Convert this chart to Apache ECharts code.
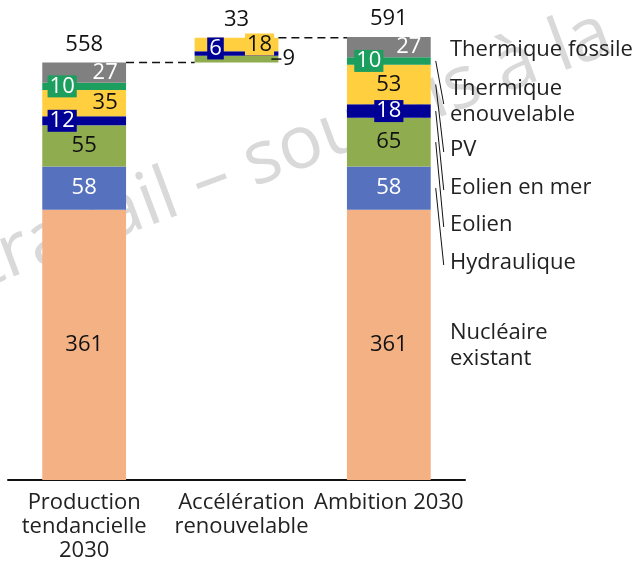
<!DOCTYPE html>
<html>
<head>
<meta charset="utf-8">
<script src="https://cdn.jsdelivr.net/npm/echarts@6/dist/echarts.min.js"></script>
<style>
  html, body { margin: 0; padding: 0; background: #fff; }
  #main { width: 638px; height: 563px; }
</style>
</head>
<body>
<div id="main"></div>
<script>
// categories
var categories = ['Production\ntendancielle\n2030', 'Accélération\nrenouvelable', 'Ambition 2030'];

// stack values (bottom -> top)
var base        = [0, 558, 0];
var nucleaire   = [361, 0, 361];
var hydraulique = [58, 0, 58];
var eolien      = [55, 9, 65];
var eolienMer   = [12, 6, 18];
var pv          = [35, 18, 53];
var thermRenouv = [10, 0, 10];
var thermFossile = [27, 0, 27];
var totals      = [558, 33, 591];

// legend texts on the right, top -> bottom
var legendNames = ['Thermique fossile', 'Thermique\nenouvelable', 'PV', 'Eolien en mer', 'Eolien', 'Hydraulique', 'Nucléaire\nexistant'];

var FONT = 'Open Sans';
var FS = 22;
var chart = echarts.init(document.getElementById('main'));

// per-bar label tweaks, kept apart from the values
function items(vals, opts) {
  return vals.map(function (v, i) {
    var o = opts && opts[i];
    var it = { value: v };
    if (v === 0) {
      it.label = { show: false };
    } else if (o) {
      it.label = o;
    }
    return it;
  });
}

var boxNavy = { backgroundColor: '#000096', color: '#fff', padding: [0, 2] };
var boxTeal = { backgroundColor: '#1b9e5e', color: '#fff', padding: [0, 2] };

function serie(name, color, data, labelColor) {
  return {
    name: name,
    type: 'bar',
    stack: 'a',
    barWidth: '55%',
    itemStyle: { color: color },
    label: {
      show: true, position: 'inside', color: labelColor,
      fontFamily: FONT, fontSize: FS
    },
    data: data,
    animation: false
  };
}

var series = [
  {
    name: 'base', type: 'bar', stack: 'a', barWidth: '55%',
    itemStyle: { color: 'rgba(0,0,0,0)' }, data: base, silent: true, animation: false
  },
  serie('Nucléaire existant', '#f4b183', items(nucleaire), '#111'),
  serie('Hydraulique', '#5672be', items(hydraulique), '#fff'),
  serie('Eolien', '#8fad4f', items(eolien, [null, {
    position: ['100%', '50%'], align: 'left', verticalAlign: 'middle', offset: [-7, 0],
    formatter: '{d|}{v|{c}}',
    rich: {
      d: { width: 10, height: 1.5, backgroundColor: '#111' },
      v: { fontFamily: FONT, fontSize: FS, color: '#111', padding: [0, 0, 0, 1] }
    }
  }, null]), '#111'),
  serie('Eolien en mer', '#000096', items(eolienMer, [
    Object.assign({ offset: [-22, 0] }, boxNavy),
    Object.assign({ offset: [-21, -5] }, boxNavy),
    Object.assign({ offset: [0, 0] }, boxNavy)
  ]), '#fff'),
  serie('PV', '#ffcf3f', items(pv, [
    { offset: [21, 0] },
    { offset: [23, 0], backgroundColor: '#ffcf3f', padding: [0, 2] },
    null
  ]), '#111'),
  serie('Thermique renouvelable', '#1b9e5e', items(thermRenouv, [
    Object.assign({ offset: [-22, 0] }, boxTeal), null,
    Object.assign({ offset: [-20, 0] }, boxTeal)
  ]), '#fff'),
  serie('Thermique fossile', '#808080', items(thermFossile, [
    { offset: [21, 0] }, null, { offset: [20, 0] }
  ]), '#fff'),
  {
    name: 'total', type: 'bar', stack: 'a', barWidth: '55%',
    data: [0, 0, 0], itemStyle: { color: 'rgba(0,0,0,0)' },
    label: {
      show: true, position: 'top', distance: 7, color: '#111',
      fontFamily: FONT, fontSize: FS,
      formatter: function (p) { return totals[p.dataIndex]; }
    },
    animation: false
  }
];

chart.setOption({
  backgroundColor: '#fff',
  animation: false,
  grid: { left: 8, right: 173, top: 31, bottom: 80 },
  xAxis: {
    type: 'category',
    data: categories,
    axisLine: { lineStyle: { color: '#111', width: 2 } },
    axisTick: { show: false },
    axisLabel: {
      interval: 0, margin: 11, color: '#222',
      fontFamily: FONT, fontSize: FS, lineHeight: 24,
      formatter: function (v, i) { return i === 1 ? '{r|' + v.split('\n').join('}\n{r|') + '}' : v; },
      rich: { r: { fontFamily: FONT, fontSize: FS, lineHeight: 24, color: '#222', padding: [0, 0, 0, 10] } }
    }
  },
  yAxis: { type: 'value', min: 0, max: 600, show: false, splitLine: { show: false } },
  series: series
});

// overlay: watermark, connectors, legend texts and leader lines
function px(i, v) { return chart.convertToPixel({ gridIndex: 0 }, [i, v]); }
var band = px(1, 0)[0] - px(0, 0)[0];
var half = band * 0.55 / 2;
var g = [];

g.push({
  type: 'text', x: -24, y: 268, rotation: 20.5 * Math.PI / 180, z: -10, silent: true,
  style: {
    text: 'travail – soumis à la', fill: '#d9d9d9',
    font: '74px "' + FONT + '"', textAlign: 'left', textVerticalAlign: 'middle'
  }
});

// dashed connectors
var y0 = px(0, totals[0])[1];
var y1 = px(1, totals[0] + totals[1])[1];
g.push({
  type: 'line', z: 50, silent: true,
  shape: { x1: px(0, 0)[0] + half, y1: y0, x2: px(1, 0)[0] - half, y2: y0 },
  style: { stroke: '#111', lineWidth: 1.5, lineDash: [8, 5] }
});
g.push({
  type: 'line', z: 50, silent: true,
  shape: { x1: px(1, 0)[0] + half, y1: y1, x2: px(2, 0)[0] - half, y2: y1 },
  style: { stroke: '#111', lineWidth: 1.5, lineDash: [8, 5] }
});

// legend labels next to the last bar
var legendY = [50, 102, 150, 188, 225, 263, 346];
var lx = 450;
legendNames.forEach(function (n, k) {
  g.push({
    type: 'text', x: lx, y: legendY[k], z: 50, silent: true,
    style: {
      text: n, fill: '#222', font: FS + 'px "' + FONT + '"',
      textAlign: 'left', textVerticalAlign: 'middle', lineHeight: 26
    }
  });
});

// leader lines from segments of the last bar to their labels
var stacks = [nucleaire, hydraulique, eolien, eolienMer, pv, thermRenouv, thermFossile];
var cum = [];
var s = 0;
stacks.forEach(function (arr) { cum.push([s, s + arr[2]]); s += arr[2]; });
// legend index k (top->bottom) maps to stack index 6-k
var right = px(2, 0)[0] + half;
for (var k = 1; k <= 5; k++) {
  var c = cum[6 - k];
  var yc = px(2, (c[0] + c[1]) / 2)[1];
  g.push({
    type: 'line', z: 50, silent: true,
    shape: { x1: right + 5, y1: yc, x2: right + 13, y2: legendY[k] + 2 },
    style: { stroke: '#111', lineWidth: 1 }
  });
}

chart.setOption({ graphic: { elements: g } });
</script>
</body>
</html>
